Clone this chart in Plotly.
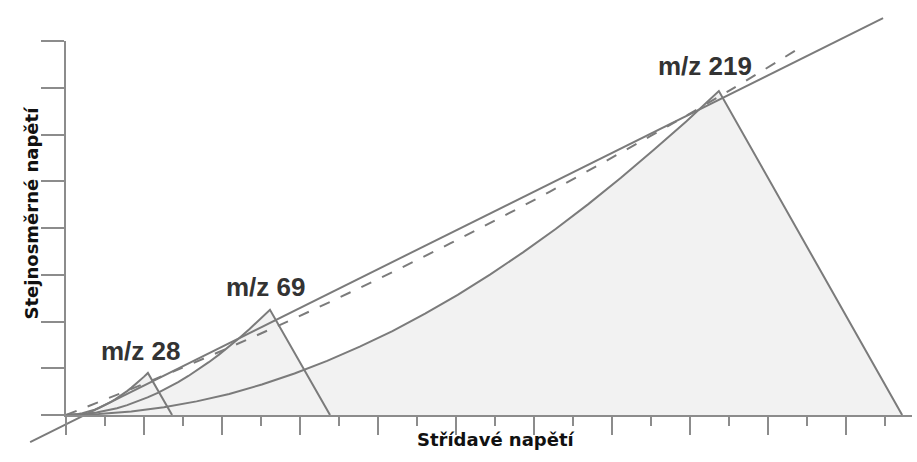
import plotly.graph_objects as go

# --- data -------------------------------------------------------------
# stability regions (u = RF amplitude units, v = DC voltage units)
region_labels = ["m/z 28", "m/z 69", "m/z 219"]
apex_u = [2.10, 5.23, 16.74]
apex_v = [0.90, 2.25, 6.93]
foot_u = [2.72, 6.77, 21.44]

# shape of the left stability boundary, as fractions of the apex
boundary_frac_u = [0.0, 0.05, 0.1, 0.15, 0.2, 0.25, 0.3, 0.35, 0.4, 0.45, 0.5,
                   0.55, 0.6, 0.65, 0.7, 0.75, 0.8, 0.85, 0.9, 0.95, 1.0]
boundary_frac_v = [0.0, 0.003, 0.011, 0.024, 0.042, 0.065, 0.094, 0.128, 0.167, 0.211, 0.259,
                   0.313, 0.371, 0.434, 0.502, 0.574, 0.651, 0.732, 0.818, 0.906, 1.0]

# scan line (solid)
scan_u = [-0.92, 20.95]
scan_v = [-0.58, 8.49]

# scan line through the origin (dashed)
ref_u = [0.0, 2.15, 4.72, 7.28, 9.85, 12.41, 14.97, 17.03, 18.77]
ref_v = [0.0, 0.72, 1.64, 2.62, 3.67, 4.78, 5.96, 6.95, 7.83]

# axis ticks
x_ticks = list(range(0, 22))
y_ticks = list(range(0, 9))

# --- styling ----------------------------------------------------------
LINE = "#7b7b7b"
AXIS = "#8c8c8c"
FILL = "#f2f2f2"

W, H = 917, 462
# pixel geometry of the drawing
X0, DX = 66.0, 39.0       # x origin and pixels per unit
Y0, DY = 415.0, 46.75     # y origin and pixels per unit

fig = go.Figure()


def region_outline(i):
    us = [f * apex_u[i] for f in boundary_frac_u]
    vs = [f * apex_v[i] for f in boundary_frac_v]
    return us, vs


# filled regions first, outlines on top
for i in range(len(region_labels)):
    us, vs = region_outline(i)
    fig.add_trace(go.Scatter(
        x=us + [foot_u[i], 0.0], y=vs + [0.0, 0.0],
        mode="lines", fill="toself", fillcolor=FILL,
        line=dict(width=0, color=FILL), hoverinfo="skip",
        xaxis="x", yaxis="y"))

for i in range(len(region_labels)):
    us, vs = region_outline(i)
    fig.add_trace(go.Scatter(
        x=us + [foot_u[i]], y=vs + [0.0],
        mode="lines", line=dict(color=LINE, width=2),
        hoverinfo="skip", xaxis="x", yaxis="y"))

fig.add_trace(go.Scatter(
    x=ref_u, y=ref_v, mode="lines",
    line=dict(color=LINE, width=2, dash="11px,12px", shape="spline"),
    hoverinfo="skip", xaxis="x", yaxis="y"))

fig.add_trace(go.Scatter(
    x=scan_u, y=scan_v, mode="lines",
    line=dict(color=LINE, width=2),
    hoverinfo="skip", xaxis="x", yaxis="y"))

# empty trace so the axis frame subplot is created
fig.add_trace(go.Scatter(x=[], y=[], xaxis="x2", yaxis="y2", hoverinfo="skip"))

# peak labels above each apex
for i, lab in enumerate(region_labels):
    fig.add_annotation(
        x=apex_u[i], y=apex_v[i], xref="x", yref="y",
        text=lab, showarrow=False,
        xshift=[-7, -4, -14][i], yshift=[22, 23, 25][i],
        font=dict(family="Liberation Sans", size=26, color="#333333", weight="bold"))

# axis titles
fig.add_annotation(
    x=496 / W, y=1 - 452 / H, xref="paper", yref="paper",
    text="<b>Střídavé napětí</b>", showarrow=False,
    font=dict(family="DejaVu Sans", size=18, color="#111111"))
fig.add_annotation(
    x=18 / W, y=1 - 213 / H, xref="paper", yref="paper",
    text="<b>Stejnosměrné napětí</b>", showarrow=False, textangle=-90,
    font=dict(family="DejaVu Sans", size=18, color="#111111"))

x_end = 912.0
fig.update_layout(
    width=W, height=H,
    margin=dict(l=0, r=0, t=0, b=0),
    paper_bgcolor="white", plot_bgcolor="rgba(0,0,0,0)",
    showlegend=False,
    # data axes cover the full canvas
    xaxis=dict(domain=[0, 1], range=[-X0 / DX, (W - X0) / DX], visible=False),
    yaxis=dict(domain=[0, 1], range=[-(H - Y0) / DY, Y0 / DY], visible=False),
    # axis frame with ticks
    xaxis2=dict(
        domain=[X0 / W, x_end / W], anchor="y2",
        range=[0, (x_end - X0) / DX],
        showline=True, linecolor=AXIS, linewidth=2,
        tickvals=x_ticks[::2], ticks="outside", ticklen=18, tickwidth=2, tickcolor=AXIS,
        showticklabels=False, showgrid=False, zeroline=False,
        minor=dict(tickvals=x_ticks[1::2], ticks="outside", ticklen=9, tickwidth=2,
                   tickcolor=AXIS, showgrid=False),
    ),
    yaxis2=dict(
        domain=[1 - Y0 / H, 1 - 41 / H], anchor="x2",
        range=[0, 8],
        showline=True, linecolor=AXIS, linewidth=2,
        tickvals=y_ticks, ticks="outside", ticklen=23, tickwidth=2, tickcolor=AXIS,
        showticklabels=False, showgrid=False, zeroline=False,
    ),
)

fig.write_html("out.html")
